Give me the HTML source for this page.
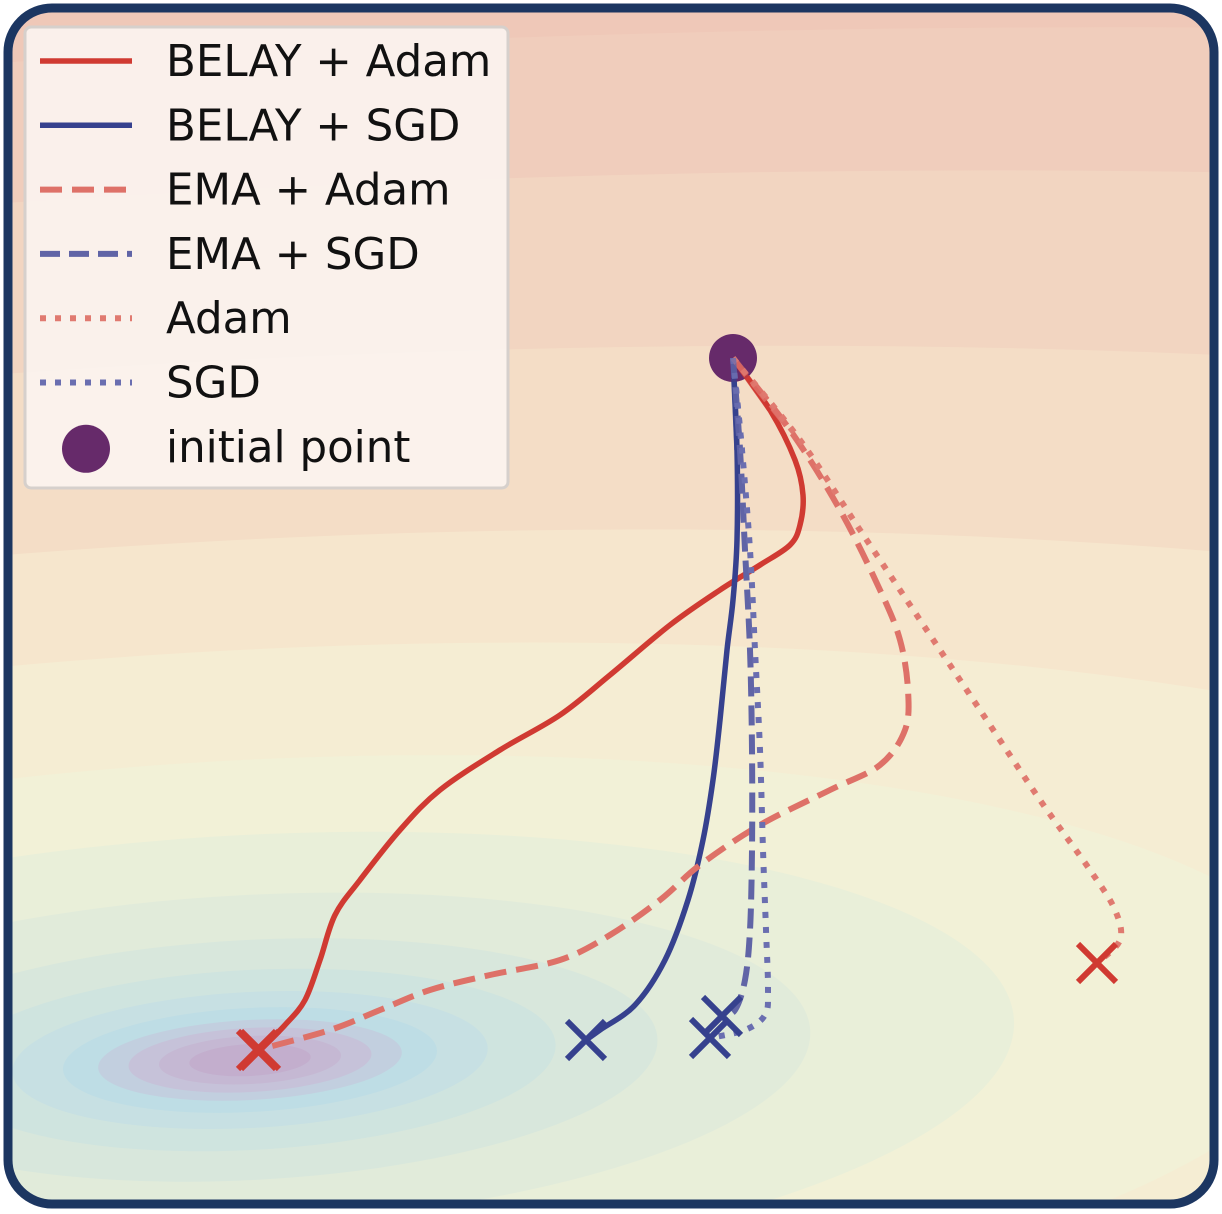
<!DOCTYPE html>
<html><head><meta charset="utf-8"><style>
html,body{margin:0;padding:0;background:#fff;overflow:hidden;width:1222px;height:1214px;}
svg{display:block;font-family:"DejaVu Sans","Liberation Sans",sans-serif;}
</style></head><body>
<svg id="chart" width="1222" height="1214" viewBox="0 0 1222 1214" xmlns="http://www.w3.org/2000/svg">
<defs><clipPath id="clip"><rect x="8" y="8" width="1206" height="1196" rx="44"/></clipPath></defs>
<g clip-path="url(#clip)">
<g id="bg"></g>
<g id="series"></g>
</g>
<rect x="8" y="8" width="1206" height="1196" rx="44" fill="none" stroke="#1c3661" stroke-width="9"/>
<g>
<rect x="25" y="27" width="483" height="461" rx="6" fill="#fbf3ef" fill-opacity="0.92" stroke="#d6d0cc" stroke-width="3"/>
<g id="legend-entries"></g>
</g>
</svg>
<script>
// trajectory data (x, y in plot units: x=px/10, y=(1214-py)/10)
const belayAdam=[[73.3,85.6],[77,80.4],[79.5,75.4],[80.3,71.9],[80,68.9],[79,66.9],[76,64.9],[72,62.4],[67,58.9],[61,53.9],[56,49.9],[50,46.4],[44,42.4],[40,38.4],[36,33.4],[33.5,29.9],[32,25.4],[30.5,21.4],[28.5,18.9],[26,16.4]];
const belaySgd=[[73.3,85.6],[73.7,76.4],[73.7,67.4],[73.3,61.4],[72.7,56.4],[72,49.4],[71.3,43.4],[70.3,37.4],[68.8,31.4],[66.5,25.4],[63.5,20.9],[60,18.4],[58.6,17.4]];
const emaAdam=[[73.3,85.6],[79,78.4],[84,70.4],[88,62.4],[90,57.4],[90.8,52.4],[90.5,48.4],[88,44.9],[83,42.4],[76,38.9],[70,34.9],[66,31.4],[61,27.9],[56,25.4],[49,23.9],[43,22.4],[38,20.4],[33,18.4],[25.7,16.4]];
const emaSgd=[[73.3,85.6],[74,76.4],[74.5,66.4],[75,56.4],[75.2,46.4],[75.2,36.4],[75,28.4],[74.5,23.4],[73.5,20.4],[72.2,19.8]];
const adam=[[73.3,85.6],[80,77.4],[86,68.4],[92,59.4],[98,50.4],[104,41.4],[109,34.4],[111.5,30.4],[112,27.4],[109.7,25.1]];
const sgd=[[73.3,85.6],[74.2,76.4],[75,66.4],[75.5,56.4],[76,46.4],[76.3,36.4],[76.6,28.4],[76.8,22.4],[76.5,19.9],[74.5,18.4],[71,17.6]];
const initialPoint=[73.3,85.6];
const minimum=[25,15.4];
const labels=["BELAY + Adam","BELAY + SGD","EMA + Adam","EMA + SGD","Adam","SGD","initial point"];

const X=v=>v*10, Y=v=>1214-v*10;
const NS="http://www.w3.org/2000/svg";
function mk(t,a,p){const e=document.createElementNS(NS,t);for(const k in a)e.setAttribute(k,a[k]);p.appendChild(e);return e;}

// background contours
const bg=document.getElementById('bg');
const bgRect=mk('rect',{x:0,y:0,width:1222,height:1214,fill:'#efc8b8'},bg);


const levels=[[1010,4.2,'#f0cdbc'],[870,4.2,'#f2d5c1'],[700,4.0,'#f4ddc6'],[520,4.0,'#f6e6cd'],[410,3.8,'#f5edd3'],[300,3.6,'#f2f1d7'],[225,3.4,'#e9efd9'],[165,3.4,'#e1ebda'],[120,3.4,'#d8e7dc'],[90,3.4,'#cfe4df'],[68,3.5,'#c7e0e3'],[52,3.6,'#bedde5'],[40,3.8,'#c2cfdf'],[32,3.8,'#c6c2d9'],[24,3.8,'#c5b8d3'],[16,3.8,'#c3aecd']];
const [mcx,mcy]=[X(minimum[0]),Y(minimum[1])];
levels.forEach(([ry,k,c])=>{
  const el=mk('ellipse',{cx:mcx,cy:mcy,rx:ry*k,ry:ry,fill:c,transform:`rotate(-3 ${mcx} ${mcy})`},bg);
  
  
});

const series=document.getElementById('series');
const styles=[
 [belayAdam,'#d03a32',5.5,'none'],
 [belaySgd,'#36418e',5.5,'none'],
 [emaAdam,'#de7168',6,'22 10'],
 [emaSgd,'#6064a6',6,'20 9'],
 [adam,'#e07a70',6,'6 9'],
 [sgd,'#6a6eb0',6,'6 9']];
const names=['belay-adam-line','belay-sgd-line','ema-adam-line','ema-sgd-line','adam-line','sgd-line'];
function smooth(pts){
  const p=pts.map(([a,b])=>[X(a),Y(b)]);
  let d=`M${p[0][0]},${p[0][1]}`;
  for(let i=0;i<p.length-1;i++){
    const p0=p[i-1]||p[i],p1=p[i],p2=p[i+1],p3=p[i+2]||p2;
    d+=` C${p1[0]+(p2[0]-p0[0])/6},${p1[1]+(p2[1]-p0[1])/6} ${p2[0]-(p3[0]-p1[0])/6},${p2[1]-(p3[1]-p1[1])/6} ${p2[0]},${p2[1]}`;
  }
  return d;
}
styles.forEach((s,i)=>{
  const el=mk('path',{d:smooth(s[0]),fill:'none',stroke:s[1],'stroke-width':s[2],'stroke-dasharray':s[3],'stroke-linejoin':'round'},series);
  
  
});
const markerColors=['#d03a32','#36418e','#d03a32','#36418e','#d03a32','#36418e'];
styles.forEach((s,i)=>{
  const e=s[0][s[0].length-1];const cx=X(e[0]),cy=Y(e[1]),r=19;
  const el=mk('path',{d:`M${cx-r},${cy-r}L${cx+r},${cy+r}M${cx-r},${cy+r}L${cx+r},${cy-r}`,stroke:markerColors[i],'stroke-width':6,fill:'none'},series);
  
  
});
const ip=mk('circle',{cx:X(initialPoint[0]),cy:Y(initialPoint[1]),r:24,fill:'#662a6a'},series);


styles.forEach((s,i)=>{
  const pts=s[0].slice(0,2);
  const el=mk('path',{d:smooth(pts),fill:'none',stroke:s[1],'stroke-width':s[2],'stroke-dasharray':s[3],'stroke-opacity':0.8},series);
  
  
});

// legend
const lg=document.getElementById('legend-entries');
labels.forEach((t,i)=>{
  const y=61+i*64.3;
  const g=mk('g',{},lg);
  
  
  if(i<6){
    const s=styles[i];
    mk('line',{x1:40,y1:y,x2:132,y2:y,stroke:s[1],'stroke-width':s[2],'stroke-dasharray':s[3]},g);
  } else {
    mk('circle',{cx:86,cy:y+2,r:24,fill:'#662a6a'},g);
  }
  const tx=mk('text',{x:166,y:y+15,'font-size':43.5,fill:'#111'},g);
  tx.textContent=t;
});
</script>
</body></html>
